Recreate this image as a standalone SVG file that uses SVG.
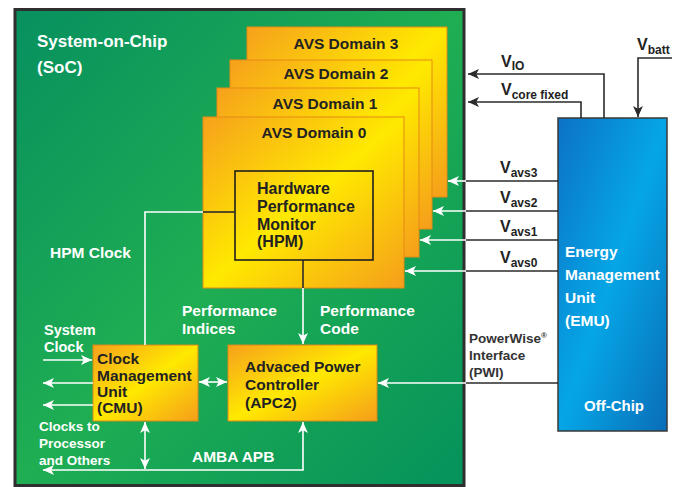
<svg xmlns="http://www.w3.org/2000/svg" width="678" height="487" viewBox="0 0 678 487">
<defs>
<linearGradient id="gGreen" x1="0" y1="0" x2="1" y2="1">
<stop offset="0" stop-color="#07905f"/>
<stop offset="0.5" stop-color="#1fae52"/>
<stop offset="1" stop-color="#05925c"/>
</linearGradient>
<linearGradient id="gOrange" x1="0" y1="0" x2="1" y2="1">
<stop offset="0" stop-color="#f6a11c"/>
<stop offset="0.5" stop-color="#ffe900"/>
<stop offset="1" stop-color="#f59e1b"/>
</linearGradient>
<linearGradient id="gBlue" x1="0" y1="0" x2="1" y2="1">
<stop offset="0" stop-color="#0c72c4"/>
<stop offset="0.5" stop-color="#05a6e6"/>
<stop offset="1" stop-color="#0a6db8"/>
</linearGradient>
<marker id="aw" viewBox="0 0 10 10" refX="10" refY="5" markerWidth="11" markerHeight="11" markerUnits="userSpaceOnUse" orient="auto-start-reverse">
<path d="M0,0.5 L10,5 L0,9.5 L2.5,5 z" fill="#ffffff"/>
</marker>
<marker id="ad" viewBox="0 0 10 10" refX="10" refY="5" markerWidth="11" markerHeight="11" markerUnits="userSpaceOnUse" orient="auto-start-reverse">
<path d="M0,0.5 L10,5 L0,9.5 L2.5,5 z" fill="#2b2b2b"/>
</marker>
</defs>
<style>
text{font-family:"Liberation Sans",Arial,sans-serif;font-weight:bold}
.w{fill:#ffffff}
.k{fill:#222222}
.dom{fill:url(#gOrange);stroke:#e58a14;stroke-width:1}
.box{fill:url(#gOrange);stroke:#d98a1a;stroke-width:1}
.lw{fill:none;stroke:#ffffff;stroke-width:1.6}
.ld{fill:none;stroke:#2b2b2b;stroke-width:1.6}
.t16{font-size:16px}
.t15{font-size:15.5px}
.t14{font-size:14.5px}
.t13{font-size:13.5px}
.sub{font-size:12px}
</style>
<rect x="0" y="0" width="678" height="487" fill="#ffffff"/>

<g id="soc">
<rect x="15" y="9.5" width="449" height="476" fill="url(#gGreen)" stroke="#2f2f2f" stroke-width="3"/>
<text class="w" x="37" y="47" style="font-size:17px">System-on-Chip</text>
<text class="w" x="37" y="73" style="font-size:17px">(SoC)</text>
</g>

<g id="avs3">
<rect class="dom" x="247" y="27" width="200" height="170"/>
<text class="k t15" x="346" y="49" text-anchor="middle">AVS Domain 3</text>
</g>
<g id="avs2">
<rect class="dom" x="230" y="60" width="202" height="169"/>
<text class="k t15" x="336" y="79" text-anchor="middle">AVS Domain 2</text>
</g>
<g id="avs1">
<rect class="dom" x="217" y="88" width="202" height="169"/>
<text class="k t15" x="325" y="109" text-anchor="middle">AVS Domain 1</text>
</g>
<g id="avs0">
<rect class="dom" x="203" y="117" width="201" height="171"/>
<text class="k t15" x="314" y="138" text-anchor="middle">AVS Domain 0</text>
</g>

<g id="hpm">
<rect x="235" y="171" width="138" height="89" fill="none" stroke="#1e1e1e" stroke-width="1.6"/>
<text class="k t16" x="257" y="194">Hardware</text>
<text class="k t16" x="257" y="212">Performance</text>
<text class="k t16" x="257" y="230">Monitor</text>
<text class="k t16" x="257" y="247">(HPM)</text>
</g>

<g id="cmu">
<rect class="box" x="93" y="345" width="105" height="76"/>
<text class="k t15" x="97" y="364">Clock</text>
<text class="k t15" x="97" y="381">Management</text>
<text class="k t15" x="97" y="397">Unit</text>
<text class="k t15" x="97" y="413">(CMU)</text>
</g>

<g id="apc2">
<rect class="box" x="228" y="345" width="149" height="76"/>
<text class="k t15" x="245" y="372">Advaced Power</text>
<text class="k t15" x="245" y="390">Controller</text>
<text class="k t15" x="245" y="408">(APC2)</text>
</g>

<g id="emu">
<rect x="558" y="118" width="109" height="313" fill="url(#gBlue)" stroke="#3a3a3a" stroke-width="1.5"/>
<text class="w t15" x="565" y="257">Energy</text>
<text class="w t15" x="565" y="280">Management</text>
<text class="w t15" x="565" y="303">Unit</text>
<text class="w t15" x="565" y="326">(EMU)</text>
<text class="w" x="614" y="411" text-anchor="middle" style="font-size:15px">Off-Chip</text>
</g>

<g id="connectors">
<!-- HPM clock -->
<path class="ld" d="M235,212 H203"/>
<path class="lw" d="M203,212 H145 V345"/>
<!-- HPM to APC2 -->
<path class="ld" d="M303,260 V288"/>
<path class="lw" d="M303,288 V344" marker-end="url(#aw)"/>
<!-- system clock -->
<path class="lw" d="M43,360 H92" marker-end="url(#aw)"/>
<!-- clocks out -->
<path class="lw" d="M93,383 H43" marker-end="url(#aw)"/>
<path class="lw" d="M93,405 H43" marker-end="url(#aw)"/>
<!-- CMU <-> APC2 -->
<path class="lw" d="M199,382 H227" marker-start="url(#aw)" marker-end="url(#aw)"/>
<!-- CMU <-> bus -->
<path class="lw" d="M145,422 V469" marker-start="url(#aw)" marker-end="url(#aw)"/>
<!-- AMBA bus -->
<path class="lw" d="M303,422 V470 H43" marker-start="url(#aw)" marker-end="url(#aw)"/>
<!-- PWI -->
<path class="ld" d="M558,383 H466"/>
<path class="lw" d="M466,383 H378" marker-end="url(#aw)"/>
<!-- Vavs -->
<path class="ld" d="M558,181 H466"/>
<path class="lw" d="M466,181 H448" marker-end="url(#aw)"/>
<path class="ld" d="M558,211 H466"/>
<path class="lw" d="M466,211 H433" marker-end="url(#aw)"/>
<path class="ld" d="M558,240 H466"/>
<path class="lw" d="M466,240 H420" marker-end="url(#aw)"/>
<path class="ld" d="M558,271 H466"/>
<path class="lw" d="M466,271 H405" marker-end="url(#aw)"/>
<!-- VIO, Vcore -->
<path class="ld" d="M604,118 V74 H468" marker-end="url(#ad)"/>
<path class="ld" d="M581,118 V102 H468" marker-end="url(#ad)"/>
<!-- Vbatt -->
<path class="ld" d="M672,58 H638 V117" marker-end="url(#ad)"/>
</g>

<g id="labels">
<text class="w t15" x="50" y="258">HPM Clock</text>
<text class="w t15" x="182" y="316">Performance</text>
<text class="w t15" x="182" y="334">Indices</text>
<text class="w t15" x="320" y="316">Performance</text>
<text class="w t15" x="320" y="334">Code</text>
<text class="w t14" x="44" y="335">System</text>
<text class="w t14" x="44" y="352">Clock</text>
<text class="w t13" x="39" y="431">Clocks to</text>
<text class="w t13" x="39" y="448">Processor</text>
<text class="w t13" x="39" y="465">and Others</text>
<text class="w t15" x="192" y="462">AMBA APB</text>
<text class="k t13" x="469" y="343" style="fill:#333">PowerWise<tspan style="font-size:8px" dy="-5">®</tspan></text>
<text class="k t13" x="469" y="360" style="fill:#333">Interface</text>
<text class="k t13" x="469" y="377" style="fill:#333">(PWI)</text>
<text class="k t16" x="501" y="67">V<tspan class="sub" dy="3">IO</tspan></text>
<text class="k t16" x="501" y="95">V<tspan class="sub" dy="4">core fixed</tspan></text>
<text class="k t16" x="637" y="50">V<tspan class="sub" dy="4">batt</tspan></text>
<text class="k t16" x="500" y="173">V<tspan class="sub" dy="4">avs3</tspan></text>
<text class="k t16" x="500" y="203">V<tspan class="sub" dy="4">avs2</tspan></text>
<text class="k t16" x="500" y="232">V<tspan class="sub" dy="4">avs1</tspan></text>
<text class="k t16" x="500" y="263">V<tspan class="sub" dy="4">avs0</tspan></text>
</g>
</svg>
